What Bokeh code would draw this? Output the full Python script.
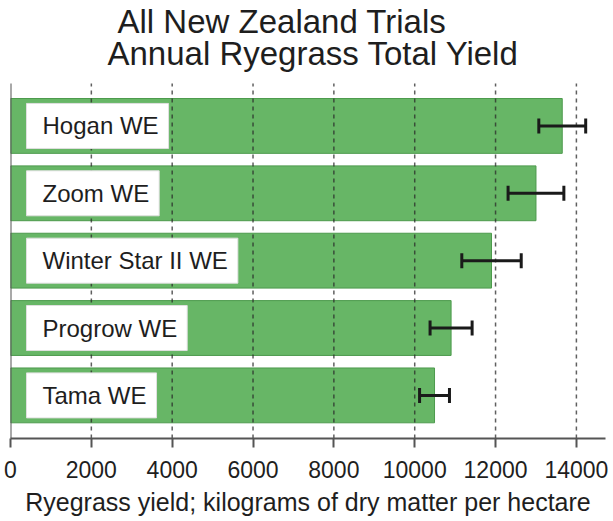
import numpy as np
from bokeh.plotting import figure
from bokeh.models import ColumnDataSource, FixedTicker, Whisker, TeeHead
from bokeh.core.properties import value
from bokeh.embed import file_html
from bokeh.resources import INLINE

cultivars = ["Hogan WE", "Zoom WE", "Winter Star II WE", "Progrow WE", "Tama WE"]
yields = [13650, 13000, 11900, 10900, 10490]
errors = [580, 690, 735, 520, 370]
x_ticks = [0, 2000, 4000, 6000, 8000, 10000, 12000, 14000]
title_lines = ["All New Zealand Trials", "Annual Ryegrass Total Yield"]
x_label = "Ryegrass yield; kilograms of dry matter per hectare"

# layout (pixels)
W, H = 613, 521
BOTTOM = 83          # space below the plotting area (axis)
TOP_GAP = 83         # space above the plotting area (titles)
Y_LO, Y_HI = -0.64, 4.63
upp = (Y_HI - Y_LO) / (H - BOTTOM - TOP_GAP)   # y units per pixel
Y_TOP = Y_HI + TOP_GAP * upp

n = len(cultivars)
ypos = list(range(n - 1, -1, -1))
src = ColumnDataSource(dict(
    name=cultivars, y=ypos, val=yields,
    lower=[v - e for v, e in zip(yields, errors)],
    upper=[v + e for v, e in zip(yields, errors)],
    zero=[0] * n,
))
grid_src = ColumnDataSource(dict(x=x_ticks[1:], y0=[Y_LO] * (len(x_ticks) - 1),
                                 y1=[Y_HI] * (len(x_ticks) - 1)))

FONT = "Liberation Sans"
INK = "#1e1e1e"

p = figure(width=W, height=H, output_backend="svg", toolbar_location=None,
           x_range=(0, 14720), y_range=(Y_LO, Y_TOP), title=None,
           min_border_left=10, min_border_right=8, min_border_top=0, min_border_bottom=BOTTOM)
p.outline_line_color = None
p.yaxis.visible = False
p.grid.visible = False

bars = p.hbar(y="y", right="val", left=0, height=0.814, source=src,
              fill_color="#67b666", line_color="#4d9a4d", line_width=1)
bars.level = "underlay"

# vertical dashed grid lines (drawn over the bars, under the label boxes)
p.segment(x0="x", y0="y0", x1="x", y1="y1", source=grid_src,
          line_color="#2a2a2a", line_alpha=0.75, line_dash="4 4", line_width=1.5)
# left axis line
p.segment(x0=[0], y0=[Y_LO], x1=[0], y1=[Y_HI], line_color="#555555", line_width=2)

ax = p.xaxis[0]
ax.ticker = FixedTicker(ticks=x_ticks)
ax.axis_line_color = "#555555"
ax.axis_line_width = 2
ax.major_tick_line_color = "#555555"
ax.major_tick_line_width = 2
ax.major_tick_out = 9
ax.major_tick_in = 0
ax.minor_tick_line_color = None
ax.major_label_text_font = FONT
ax.major_label_text_font_size = "23px"
ax.major_label_text_color = INK
ax.major_label_standoff = 13
ax.axis_label = x_label
ax.axis_label_text_font = FONT
ax.axis_label_text_font_size = "25px"
ax.axis_label_text_font_style = "normal"
ax.axis_label_text_color = INK
ax.axis_label_standoff = 7

txt = p.text(x="zero", y="y", text="name", source=src, x_offset=16,
             text_font=value(FONT), text_font_size="24px", text_color=INK,
             text_baseline="middle", text_align="left",
             background_fill_color="white", border_line_color="#e0e0e0",
             padding=dict(left=16, right=10, top=9, bottom=9))
txt.level = "annotation"

wh = Whisker(source=src, base="y", lower="lower", upper="upper", dimension="width",
             line_color="#1a1a1a", line_width=3,
             lower_head=TeeHead(size=15, line_width=3, line_color="#1a1a1a"),
             upper_head=TeeHead(size=15, line_width=3, line_color="#1a1a1a"))
wh.level = "annotation"
p.add_layout(wh)

# two-line title, centred vertically 21px and 53px below the top of the chart
p.text(x=[0], y=[Y_TOP - 21 * upp], text=[title_lines[0]], x_offset=107,
       text_font=value(FONT), text_font_size="33px", text_color=INK,
       text_baseline="middle", text_align="left")
p.text(x=[0], y=[Y_TOP - 53 * upp], text=[title_lines[1]], x_offset=97,
       text_font=value(FONT), text_font_size="33px", text_color=INK,
       text_baseline="middle", text_align="left")

open("out.html", "w").write(file_html(p, INLINE))
